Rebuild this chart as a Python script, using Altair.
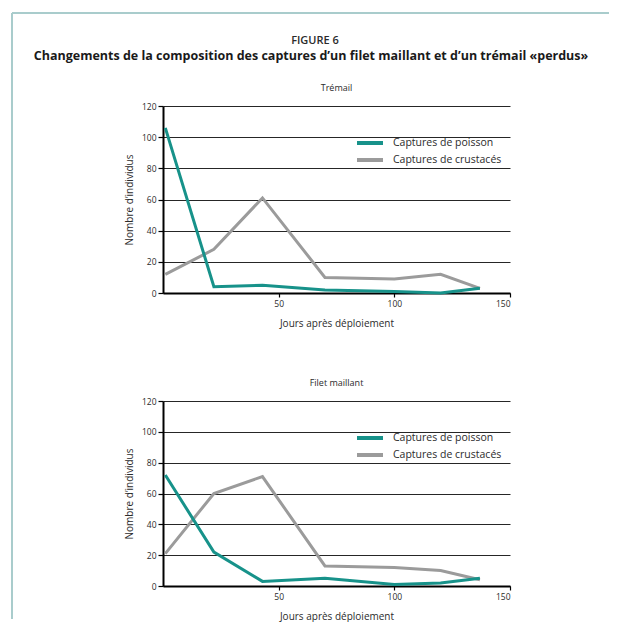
import altair as alt
import pandas as pd

# ---- data ----
days = [1, 22, 43, 70, 100, 120, 137]
series = ["Captures de poisson", "Captures de crustacés"]
colors = ["#17928a", "#9b9b9b"]

tremail_poisson = [106, 4, 5, 2, 1, 0, 3]
tremail_crustaces = [12, 28, 61, 10, 9, 12, 3]
filet_poisson = [72, 22, 3, 5, 1, 2, 5]
filet_crustaces = [21, 60, 71, 13, 12, 10, 4]

panel_titles = ["Trémail", "Filet maillant"]
figure_label = ["FIGURE 6"]
main_title = ["Changements de la composition des captures d’un filet maillant et d’un trémail «perdus»"]
x_title = "Jours après déploiement"
y_title = "Nombre d’individus"
x_ticks = [50, 100, 150]
y_ticks = [0, 20, 40, 60, 80, 100, 120]

FONT = "Open Sans"
TXT = "#2b2b2b"
W, H = 347, 187


def make_df(p, c):
    rows = []
    for s, vals in zip(series, [p, c]):
        for d, v in zip(days, vals):
            rows.append({"jours": d, "n": v, "serie": s})
    return pd.DataFrame(rows)


def lines(df):
    x = alt.X("jours:Q", scale=alt.Scale(domain=[0, 150], nice=False),
              axis=alt.Axis(values=x_ticks, title=x_title, grid=False, tickSize=4,
                            labelPadding=2, titlePadding=11))
    y = alt.Y("n:Q", scale=alt.Scale(domain=[0, 120], nice=False),
              axis=alt.Axis(values=y_ticks, title=y_title, grid=True, tickSize=5,
                            labelPadding=2, titlePadding=7))
    color = alt.Color("serie:N", scale=alt.Scale(domain=series, range=colors),
                      legend=alt.Legend(title=None, orient="none", legendX=198.5, legendY=28.5,
                                        symbolType="M-2,0H2", symbolSize=169,
                                        symbolStrokeWidth=4, labelFontSize=10.5,
                                        labelOffset=14.5, padding=0, rowPadding=-1,
                                        labelColor=TXT, labelFont=FONT))
    gray = alt.Chart(df).transform_filter(alt.datum.serie == series[1]).mark_line(
        strokeWidth=3).encode(x=x, y=y, color=color)
    teal = alt.Chart(df).transform_filter(alt.datum.serie == series[0]).mark_line(
        strokeWidth=3).encode(x=x, y=y, color=color)
    return [gray, teal]


def panel_title(i):
    return alt.Chart(pd.DataFrame({"t": [panel_titles[i]]})).mark_text(
        font=FONT, fontSize=9, color=TXT, align="center", baseline="middle").encode(
        x=alt.value(W / 2), y=alt.value(-18), text="t:N")


one = pd.DataFrame({"a": [0]})
frame_top = alt.Chart(one).mark_rule(color="#a9cccc", strokeWidth=2).encode(
    x=alt.value(-151), x2=alt.value(446), y=alt.value(-93))
frame_left = alt.Chart(one).mark_rule(color="#a9cccc", strokeWidth=2).encode(
    x=alt.value(-151), y=alt.value(-93), y2=alt.value(513))
fig_text = alt.Chart(pd.DataFrame({"t": figure_label})).mark_text(
    font=FONT, fontSize=11, fontWeight=600, color=TXT, align="center", baseline="middle").encode(
    x=alt.value(152), y=alt.value(-65), text="t:N")
main_text = alt.Chart(pd.DataFrame({"t": main_title})).mark_text(
    font=FONT, fontSize=12.5, fontWeight="bold", color="#1a1a1a", align="center",
    baseline="middle").encode(x=alt.value(148), y=alt.value(-50), text="t:N")

top = alt.layer(frame_top, frame_left, fig_text, main_text, panel_title(0),
                *lines(make_df(tremail_poisson, tremail_crustaces))).properties(
    width=W, height=H)

bottom = alt.layer(panel_title(1), *lines(make_df(filet_poisson, filet_crustaces))).properties(
    width=W, height=185)

chart = alt.vconcat(top, bottom, spacing=108, bounds="flush").resolve_scale(
    color="independent").properties(
    padding={"left": 3, "top": 4, "right": 0, "bottom": 0}
).configure_view(stroke=None).configure_axis(
    domainColor="#000", domainWidth=2, tickColor="#000", tickWidth=1.2,
    gridColor="#262626", gridWidth=1.2, labelFont=FONT, titleFont=FONT,
    labelFontSize=8.5, titleFontSize=10, labelColor=TXT, titleColor=TXT,
    titleFontWeight="normal")

chart.save("out.html", embed_options={"renderer": "svg", "actions": False})
